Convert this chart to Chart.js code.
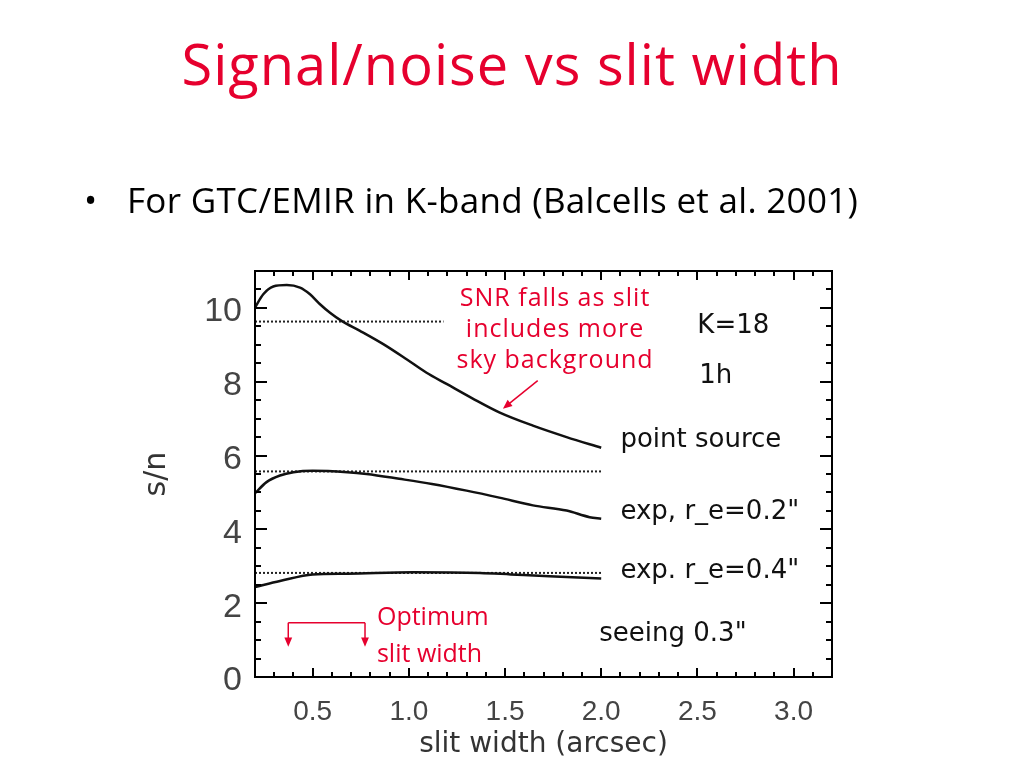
<!DOCTYPE html>
<html>
<head>
<meta charset="utf-8">
<title>Signal/noise vs slit width</title>
<script src="https://cdn.jsdelivr.net/npm/chart.js@4.4.1/dist/chart.umd.min.js"></script>
<style>
  html, body { margin: 0; padding: 0; background: #fff; }
  body { width: 1024px; height: 768px; position: relative; overflow: hidden; }
  canvas { position: absolute; left: 0; top: 0; }
  #titulo { position: absolute; left: 0; width: 1024px; top: 35px; text-align: center; letter-spacing: 1px;
            color: #e6002e; font-family: "Open Sans"; font-size: 56px; line-height: 56px; }
  #marcador { position: absolute; left: 84px; top: 182px; font-family: "Open Sans"; font-size: 35px; line-height: 35px; }
  #bullet { position: absolute; left: 127px; top: 182px; font-family: "Open Sans"; font-size: 35px; line-height: 35px;
            letter-spacing: 0.3px; color: #000; }
</style>
</head>
<body>
<canvas id="grafico" width="1024" height="768"></canvas>
<div id="titulo">Signal/noise vs slit width</div>
<div id="marcador">•</div>
<div id="bullet">For GTC/EMIR in K-band (Balcells et al. 2001)</div>

<script>
// DADOS
const larguraPonto = [0.20, 0.243, 0.295, 0.365, 0.434, 0.486, 0.538, 0.59, 0.65, 0.746, 0.867, 0.988, 1.09, 1.196, 1.33, 1.47, 1.645, 1.82, 2.00];
const snPonto      = [10.01, 10.37, 10.58, 10.62, 10.55, 10.37, 10.10, 9.87, 9.65, 9.38, 9.02, 8.61, 8.25, 7.94, 7.55, 7.17, 6.81, 6.50, 6.21];

const larguraExp02 = [0.20, 0.26, 0.33, 0.40, 0.50, 0.68, 0.78, 0.95, 1.12, 1.30, 1.47, 1.645, 1.82, 1.94, 2.00];
const snExp02      = [4.98, 5.28, 5.46, 5.55, 5.59, 5.55, 5.50, 5.37, 5.23, 5.05, 4.86, 4.65, 4.51, 4.33, 4.29];

const larguraExp04 = [0.20, 0.33, 0.50, 0.68, 1.02, 1.37, 1.53, 1.73, 2.00];
const snExp04      = [2.44, 2.60, 2.78, 2.80, 2.84, 2.82, 2.78, 2.73, 2.67];

// linhas pontilhadas de referência: nível, início, fim
const nivelRef  = [9.63, 5.57, 2.82];
const inicioRef = [0.20, 0.20, 0.20];
const fimRef    = [1.18, 2.00, 2.00];

const ticksX = [0.5, 1.0, 1.5, 2.0, 2.5, 3.0];
const ticksY = [0, 2, 4, 6, 8, 10];

// textos dentro do gráfico (coordenadas em unidades dos eixos)
const rotulos = [
  { txt: "K=18", x: 2.50, y: 9.51 },
  { txt: "1h", x: 2.51, y: 8.16 },
  { txt: "point source", x: 2.10, y: 6.41 },
  { txt: "exp, r_e=0.2\"", x: 2.10, y: 4.46 },
  { txt: "exp. r_e=0.4\"", x: 2.10, y: 2.86 },
  { txt: "seeing 0.3\"", x: 1.99, y: 1.16 }
];
const notasVermelhas = [
  { txt: "SNR falls as slit", x: 1.76, y: 10.24, align: "center", esp: "1px" },
  { txt: "includes more", x: 1.76, y: 9.41, align: "center", esp: "1px" },
  { txt: "sky background", x: 1.76, y: 8.57, align: "center", esp: "1px" },
  { txt: "Optimum", x: 0.834, y: 1.59, align: "left", esp: "0px" },
  { txt: "slit width", x: 0.834, y: 0.59, align: "left", esp: "0px" }
];

const VERMELHO = "#e6002e";

function pontos(xs, ys) {
  return xs.map((v, i) => ({ x: v, y: ys[i] }));
}

function curva(xs, ys) {
  return {
    data: pontos(xs, ys),
    showLine: true,
    borderColor: "#111",
    borderWidth: 2.5,
    pointRadius: 0,
    cubicInterpolationMode: "monotone"
  };
}

function pontilhada(i) {
  return {
    data: [{ x: inicioRef[i], y: nivelRef[i] }, { x: fimRef[i], y: nivelRef[i] }],
    showLine: true,
    borderColor: "#222",
    borderWidth: 2,
    borderDash: [2, 2],
    pointRadius: 0
  };
}

function seta(ctx, x1, y1, x2, y2, tam) {
  const ang = Math.atan2(y2 - y1, x2 - x1);
  ctx.beginPath();
  ctx.moveTo(x1, y1);
  ctx.lineTo(x2 - Math.cos(ang) * tam * 0.6, y2 - Math.sin(ang) * tam * 0.6);
  ctx.stroke();
  ctx.beginPath();
  ctx.moveTo(x2, y2);
  ctx.lineTo(x2 - tam * Math.cos(ang - 0.4), y2 - tam * Math.sin(ang - 0.4));
  ctx.lineTo(x2 - tam * Math.cos(ang + 0.4), y2 - tam * Math.sin(ang + 0.4));
  ctx.closePath();
  ctx.fill();
}

// MOLDURA ESTILO IDL + ANOTAÇÕES
const molduraIDL = {
  id: "molduraIDL",
  afterDatasetsDraw(chart) {
    const { ctx, chartArea: a, scales: { x, y } } = chart;
    ctx.save();
    ctx.strokeStyle = "#000";
    ctx.lineWidth = 2;
    ctx.strokeRect(a.left, a.top, a.right - a.left, a.bottom - a.top);

    ctx.beginPath();
    for (let v = 3; v <= 31; v++) {
      const px = Math.round(x.getPixelForValue(v / 10));
      const len = v % 5 === 0 ? 9 : 5;
      ctx.moveTo(px, a.bottom); ctx.lineTo(px, a.bottom - len);
      ctx.moveTo(px, a.top); ctx.lineTo(px, a.top + len);
    }
    for (let v = 1; v <= 21; v++) {
      const py = Math.round(y.getPixelForValue(v / 2));
      const len = v % 4 === 0 ? 12 : 6;
      ctx.moveTo(a.left, py); ctx.lineTo(a.left + len, py);
      ctx.moveTo(a.right, py); ctx.lineTo(a.right - len, py);
    }
    ctx.stroke();

    // textos pretos
    ctx.fillStyle = "#111";
    ctx.font = '26px "DejaVu Sans"';
    ctx.textBaseline = "middle";
    ctx.textAlign = "left";
    rotulos.forEach(r => {
      ctx.fillText(r.txt, x.getPixelForValue(r.x), y.getPixelForValue(r.y));
    });

    // textos vermelhos
    ctx.fillStyle = VERMELHO;
    ctx.strokeStyle = VERMELHO;
    ctx.font = '25px "Open Sans"';
    notasVermelhas.forEach(n => {
      ctx.textAlign = n.align;
      ctx.letterSpacing = n.esp;
      ctx.fillText(n.txt, x.getPixelForValue(n.x), y.getPixelForValue(n.y));
    });
    ctx.letterSpacing = "0px";

    // seta para a curva
    ctx.lineWidth = 1.5;
    seta(ctx, x.getPixelForValue(1.67), y.getPixelForValue(8.03),
         x.getPixelForValue(1.489), y.getPixelForValue(7.27), 10);

    // colchete "optimum"
    const xa = x.getPixelForValue(0.373), xb = x.getPixelForValue(0.772);
    const yt = y.getPixelForValue(1.47), yp = y.getPixelForValue(0.82);
    ctx.beginPath();
    ctx.moveTo(xa, yt); ctx.lineTo(xb, yt);
    ctx.stroke();
    seta(ctx, xa, yt, xa, yp, 10);
    seta(ctx, xb, yt, xb, yp, 10);

    ctx.restore();
  }
};

const ctx = document.getElementById("grafico").getContext("2d");

new Chart(ctx, {
  type: "scatter",
  data: {
    datasets: [
      curva(larguraPonto, snPonto),
      curva(larguraExp02, snExp02),
      curva(larguraExp04, snExp04),
      pontilhada(0),
      pontilhada(1),
      pontilhada(2)
    ]
  },
  options: {
    responsive: false,
    animation: false,
    devicePixelRatio: 1,
    layout: { padding: { left: 139, top: 271, right: 192, bottom: 6 } },
    plugins: { legend: { display: false }, tooltip: { enabled: false } },
    scales: {
      x: {
        type: "linear",
        min: 0.2,
        max: 3.2,
        afterBuildTicks: s => { s.ticks = ticksX.map(v => ({ value: v })); },
        afterFit: s => { s.height = 85; },
        grid: { display: false, drawTicks: false },
        border: { display: false },
        ticks: {
          font: { family: "Liberation Sans", size: 28 },
          color: "#444",
          padding: 18,
          maxRotation: 0,
          autoSkip: false,
          callback: v => v.toFixed(1)
        },
        title: {
          display: true,
          text: "slit width (arcsec)",
          font: { family: "DejaVu Sans", size: 28 },
          color: "#333",
          padding: { top: 0, bottom: 0 }
        }
      },
      y: {
        type: "linear",
        min: 0,
        max: 11,
        afterBuildTicks: s => { s.ticks = ticksY.map(v => ({ value: v })); },
        afterFit: s => { s.width = 116; },
        grid: { display: false, drawTicks: false },
        border: { display: false },
        ticks: {
          font: { family: "Liberation Sans", size: 34 },
          color: "#444",
          padding: 13,
          labelOffset: 4,
          autoSkip: false
        },
        title: {
          display: true,
          text: "s/n",
          font: { family: "DejaVu Sans", size: 30 },
          color: "#333",
          padding: { top: 0, bottom: 0 }
        }
      }
    }
  },
  plugins: [molduraIDL]
});
</script>
</body>
</html>
